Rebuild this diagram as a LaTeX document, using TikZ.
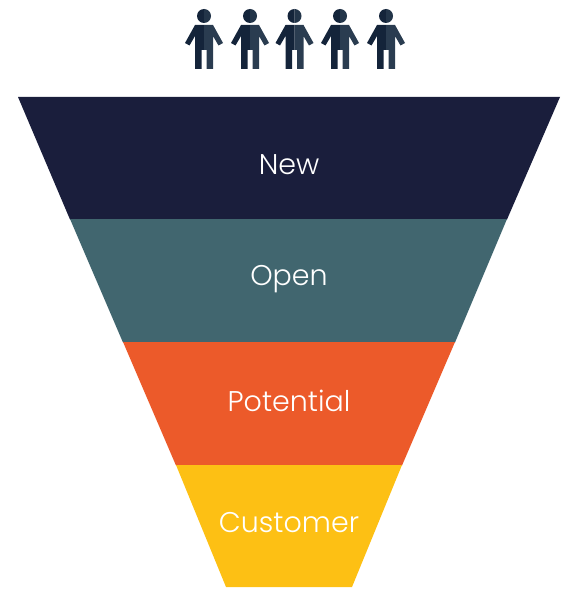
\documentclass[tikz,border=0pt]{standalone}
\usepackage{fontspec}
\setmainfont{Poppins}[UprightFont=* Light]
\usetikzlibrary{positioning}
\definecolor{bandnew}{HTML}{1A1E3C}
\definecolor{bandopen}{HTML}{41666F}
\definecolor{bandpot}{HTML}{EC5A2A}
\definecolor{bandcust}{HTML}{FDC014}
\definecolor{persondark}{HTML}{14243A}
\definecolor{personlight}{HTML}{2A3C50}
\tikzset{tag/.style={text=white,font=\fontsize{28.5}{32}\selectfont,inner sep=0pt},
  person/.pic={
    \fill[persondark] (0,7) arc (90:270:7) -- cycle;
    \fill[personlight!70!persondark] (0,7) arc (90:-90:7) -- cycle;
    \fill[persondark] (0,9) -- (-9,9) -- (-19,27) -- (-14.5,29.5) -- (-9,20) -- (-9,53) -- (-2.5,53) -- (-2.5,34) -- (0,34) -- cycle;
    \fill[personlight] (0,9) -- (9,9) -- (19,27) -- (14.5,29.5) -- (9,20) -- (9,53) -- (2.5,53) -- (2.5,34) -- (0,34) -- cycle;
  }}
\begin{document}
\begin{tikzpicture}[x=1pt,y=-1pt]
\useasboundingbox (0,0) rectangle (567,604);
% people on top
\foreach \px in {204,250,294.5,340,386}
  \pic at (\px,16) {person};
% funnel
\fill[bandnew] (18,97) -- (560,97) -- (507,219.5) -- (70,219.5) -- cycle;
\fill[bandopen] (70,219) -- (507,219) -- (455,342.5) -- (123,342.5) -- cycle;
\fill[bandpot] (123,342) -- (455,342) -- (402,465.5) -- (176,465.5) -- cycle;
\fill[bandcust] (176,465) -- (402,465) -- (352,587) -- (226,587) -- cycle;
\node[tag] (new) at (289,165) {New};
\node[tag] (open) at (289,279) {Open};
\node[tag] (pot) at (289,401) {Potential};
\node[tag] (cust) at (289,523) {Customer};
\end{tikzpicture}
\end{document}
